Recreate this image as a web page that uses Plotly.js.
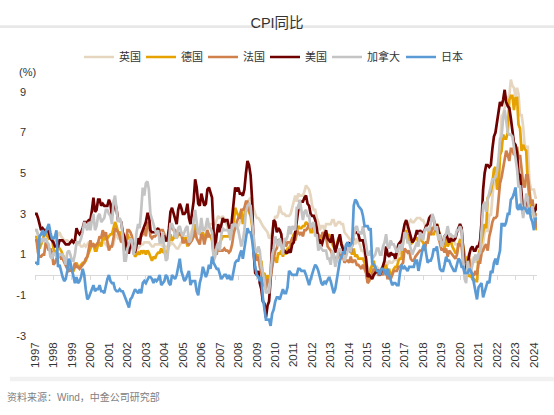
<!DOCTYPE html>
<html>
<head>
<meta charset="utf-8">
<script src="https://cdn.plot.ly/plotly-3.0.1.min.js"></script>
<style>html,body{margin:0;padding:0;background:#fff;}#chart{width:554px;height:415px;}</style>
</head>
<body>
<div id="chart"></div>
<script>
// Monthly YoY CPI, 1997-01 .. 2024-03
const startYear = 1997;
const seriesNames = ['英国', '德国', '法国', '美国', '加拿大', '日本'];
const uk = [
2.2,2.2,2.0,1.9,2.0,2.1,2.2,2.1,2.0,1.9,1.9,1.8,
1.7,1.7,1.8,2.0,2.1,1.9,1.8,1.7,1.7,1.7,1.6,1.6,
1.7,1.6,1.7,1.6,1.5,1.5,1.4,1.4,1.5,1.4,1.5,1.6,
1.6,1.5,1.4,1.4,1.5,1.6,1.5,1.4,1.6,1.6,1.5,1.4,
1.5,1.4,1.4,1.5,1.9,2.0,1.8,1.8,1.7,1.6,1.3,1.4,
1.6,1.5,1.5,1.4,1.2,1.2,1.3,1.3,1.4,1.5,1.5,1.6,
1.6,1.6,1.6,1.5,1.4,1.4,1.5,1.5,1.5,1.5,1.5,1.4,
1.4,1.4,1.4,1.4,1.5,1.6,1.5,1.4,1.3,1.3,1.5,1.6,
1.7,1.7,1.9,1.9,1.9,2.0,2.2,2.3,2.4,2.3,2.1,2.0,
2.0,2.0,1.8,2.0,2.3,2.4,2.5,2.5,2.5,2.5,2.7,2.9,
2.8,2.8,2.9,2.7,2.5,2.4,2.0,2.0,2.0,2.2,2.3,2.3,
2.4,2.6,2.7,3.0,3.2,3.4,3.6,3.7,3.8,3.5,3.2,3.0,
2.8,2.8,2.7,2.5,2.4,2.3,2.2,2.1,1.8,1.9,2.1,2.6,
2.9,2.8,3.0,3.4,3.1,3.0,3.0,2.9,2.9,2.9,3.0,3.3,
3.7,3.9,3.6,4.0,3.9,3.9,3.9,4.1,4.4,4.3,4.2,3.9,
3.4,3.2,3.2,2.8,2.6,2.2,2.4,2.4,2.2,2.5,2.5,2.5,
2.5,2.7,2.7,2.4,2.5,2.6,2.6,2.5,2.5,2.1,2.0,1.9,
1.8,1.7,1.6,1.8,1.5,1.8,1.6,1.5,1.2,1.2,1.0,0.7,
0.4,0.3,0.3,0.1,0.4,0.3,0.4,0.3,0.2,0.3,0.3,0.5,
0.6,0.5,0.7,0.6,0.6,0.7,0.8,0.7,1.0,1.1,1.4,1.8,
2.0,2.3,2.3,2.6,2.7,2.6,2.6,2.7,2.8,2.8,2.8,2.7,
2.7,2.5,2.3,2.2,2.3,2.3,2.3,2.4,2.2,2.2,2.1,2.0,
1.8,1.8,1.8,2.0,1.9,1.9,2.0,1.7,1.7,1.5,1.5,1.4,
1.8,1.7,1.5,0.9,0.7,0.8,1.1,0.5,0.7,0.9,0.6,0.8,
0.9,0.7,1.0,1.6,2.1,2.4,2.1,3.0,2.9,3.8,4.6,4.8,
4.9,5.5,6.2,7.8,7.9,8.2,8.8,8.6,8.8,9.6,9.3,9.2,
8.8,9.2,8.9,7.8,7.9,7.3,6.4,6.3,6.3,4.7,4.2,4.2,
4.2,3.8,3.8];
const germany = [
1.8,1.9,1.6,1.3,1.5,1.7,2.0,2.1,1.9,1.8,1.9,1.8,
1.3,1.1,1.1,1.4,1.3,1.2,1.0,0.8,0.7,0.7,0.5,0.4,
0.2,0.2,0.4,0.6,0.4,0.4,0.5,0.6,0.6,0.7,0.9,1.1,
1.3,1.5,1.5,1.2,1.2,1.5,1.6,1.4,1.9,1.7,1.9,1.8,
1.9,2.0,2.0,2.3,2.6,2.4,2.1,2.1,1.8,1.7,1.5,1.6,
2.0,1.8,1.8,1.5,1.2,0.9,1.0,1.1,1.0,1.2,1.1,1.2,
1.0,1.2,1.1,0.9,0.7,0.9,0.8,1.0,1.1,1.1,1.3,1.1,
1.2,0.9,1.1,1.6,2.0,1.7,1.8,2.0,1.8,2.0,2.0,2.1,
1.6,1.8,1.8,1.4,1.7,1.8,1.9,1.9,2.5,2.3,2.2,2.1,
2.0,2.1,1.8,2.0,1.9,2.0,1.9,1.7,1.0,1.1,1.5,1.4,
1.6,1.7,1.9,1.9,1.9,1.9,1.9,2.0,2.5,2.5,3.3,3.1,
2.9,2.9,3.2,2.5,3.0,3.3,3.3,3.1,2.9,2.4,1.4,1.1,
0.9,1.0,0.5,0.7,0.0,0.1,-0.5,0.0,-0.3,0.0,0.4,0.9,
0.8,0.6,1.1,1.0,1.2,0.9,1.2,1.0,1.3,1.3,1.5,1.7,
2.0,2.1,2.1,2.4,2.3,2.3,2.4,2.4,2.6,2.5,2.4,2.1,
2.1,2.3,2.1,2.1,1.9,1.7,1.7,2.1,2.0,2.0,1.9,2.0,
1.7,1.5,1.4,1.2,1.5,1.8,1.9,1.5,1.4,1.2,1.3,1.4,
1.3,1.2,1.0,1.3,0.9,1.0,0.8,0.8,0.8,0.8,0.6,0.2,
-0.3,0.1,0.3,0.5,0.7,0.3,0.2,0.2,0.0,0.3,0.4,0.3,
0.5,0.0,0.3,-0.1,0.1,0.3,0.4,0.4,0.7,0.8,0.8,1.7,
1.9,2.2,1.6,2.0,1.5,1.6,1.7,1.8,1.8,1.6,1.8,1.7,
1.6,1.4,1.6,1.6,2.2,2.1,2.0,2.0,2.3,2.5,2.3,1.7,
1.4,1.5,1.3,2.0,1.4,1.6,1.7,1.4,1.2,1.1,1.1,1.5,
1.7,1.7,1.4,0.9,0.6,0.9,-0.1,0.0,-0.2,-0.2,-0.3,-0.3,
1.0,1.3,1.7,2.0,2.5,2.3,3.8,3.9,4.1,4.5,5.2,5.3,
4.2,4.3,5.9,6.1,6.9,6.7,6.7,7.0,8.6,8.8,8.8,8.1,
8.7,8.7,7.4,7.2,6.1,6.4,6.2,6.1,4.5,3.8,3.2,3.7,
2.9,2.5,2.2];
const france = [
1.7,1.7,1.1,0.9,0.9,1.0,1.0,1.6,1.4,1.2,1.3,1.1,
0.5,0.6,0.8,1.0,1.0,0.8,0.8,0.6,0.5,0.3,0.2,0.3,
0.2,0.3,0.6,0.4,0.4,0.3,0.4,0.5,0.6,0.8,0.9,1.3,
1.7,1.4,1.5,1.4,1.5,1.6,1.9,1.8,2.2,1.9,2.1,1.6,
1.2,1.4,1.4,1.8,2.3,2.2,2.1,1.9,1.6,1.8,1.2,1.4,
2.2,2.2,2.1,1.9,1.5,1.4,1.6,1.7,1.8,1.9,2.0,2.3,
1.9,2.5,2.6,1.9,1.8,1.9,1.9,2.0,2.1,2.2,2.2,2.2,
2.0,1.7,1.7,2.0,2.4,2.3,2.2,2.2,2.0,2.1,2.0,2.1,
1.6,1.6,1.7,1.6,1.5,1.6,1.7,1.9,2.2,1.8,1.6,1.5,
2.0,1.9,1.5,1.9,2.2,1.9,1.9,1.9,1.2,1.1,1.0,1.5,
1.2,1.2,1.2,1.3,1.2,1.2,1.1,1.2,1.5,2.0,2.4,2.6,
2.8,2.8,3.2,3.2,3.3,3.6,3.6,3.2,3.0,2.7,1.6,1.0,
0.7,0.9,0.4,0.1,-0.3,-0.5,-0.7,-0.2,-0.4,-0.2,0.4,0.9,
1.2,1.3,1.7,1.7,1.6,1.5,1.7,1.4,1.6,1.6,1.6,1.8,
1.8,1.7,2.0,2.1,2.0,2.1,1.9,2.2,2.2,2.3,2.5,2.5,
2.3,2.3,2.3,2.1,2.0,1.9,1.9,2.1,1.9,1.9,1.4,1.3,
1.2,1.0,1.0,0.7,0.8,0.9,1.2,0.9,0.9,0.6,0.7,0.7,
0.6,0.9,0.6,0.7,0.7,0.5,0.5,0.4,0.3,0.5,0.3,0.1,
-0.4,-0.3,-0.1,0.1,0.3,0.2,0.2,0.0,0.0,0.1,0.0,0.2,
0.2,-0.2,-0.1,-0.2,0.0,0.2,0.2,0.2,0.4,0.4,0.5,0.6,
1.3,1.2,1.1,1.2,0.8,0.7,0.7,0.9,1.0,1.1,1.2,1.2,
1.3,1.2,1.6,1.6,2.0,2.0,2.3,2.3,2.2,2.2,1.9,1.6,
1.2,1.3,1.1,1.3,0.9,1.2,1.1,1.0,0.9,0.8,1.0,1.5,
1.5,1.4,0.7,0.3,0.4,0.2,0.8,0.2,0.0,0.0,0.2,0.0,
0.6,0.6,1.1,1.2,1.4,1.5,1.2,1.9,2.2,2.6,2.8,2.8,
2.9,3.6,4.5,4.8,5.2,5.8,6.1,5.9,5.6,6.2,6.2,5.9,
6.0,6.3,5.7,5.9,5.1,4.5,4.3,4.9,4.9,4.0,3.5,3.7,
3.1,3.0,2.3];
const usa = [
3.0,3.0,2.8,2.5,2.2,2.3,2.2,2.2,2.2,2.1,1.8,1.7,
1.6,1.4,1.4,1.4,1.7,1.7,1.7,1.6,1.5,1.5,1.5,1.6,
1.7,1.6,1.7,2.3,2.1,2.0,2.1,2.3,2.6,2.6,2.6,2.7,
2.7,3.2,3.8,3.1,3.2,3.7,3.7,3.4,3.5,3.4,3.4,3.4,
3.7,3.5,2.9,3.3,3.6,3.2,2.7,2.7,2.6,2.1,1.9,1.6,
1.1,1.1,1.5,1.6,1.2,1.1,1.5,1.8,1.5,2.0,2.2,2.4,
2.6,3.0,3.0,2.2,2.1,2.1,2.1,2.2,2.3,2.0,1.8,1.9,
1.9,1.7,1.7,2.3,3.1,3.3,3.0,2.7,2.5,3.2,3.5,3.3,
3.0,3.0,3.1,3.5,2.8,2.5,3.2,3.6,4.7,4.3,3.5,3.4,
4.0,3.6,3.4,3.5,4.2,4.3,4.1,3.8,2.1,1.3,2.0,2.5,
2.1,2.4,2.8,2.6,2.7,2.7,2.4,2.0,2.8,3.5,4.3,4.1,
4.3,4.0,4.0,3.9,4.2,5.0,5.6,5.4,4.9,3.7,1.1,0.1,
0.0,0.2,-0.4,-0.7,-1.3,-1.4,-2.1,-1.5,-1.3,-0.2,1.8,2.7,
2.6,2.1,2.3,2.2,2.0,1.1,1.2,1.1,1.1,1.2,1.1,1.5,
1.6,2.1,2.7,3.2,3.6,3.6,3.6,3.8,3.9,3.5,3.4,3.0,
2.9,2.9,2.7,2.3,1.7,1.7,1.4,1.7,2.0,2.2,1.8,1.7,
1.6,2.0,1.5,1.1,1.4,1.8,2.0,1.5,1.2,1.0,1.2,1.5,
1.6,1.1,1.5,2.0,2.1,2.1,2.0,1.7,1.7,1.7,1.3,0.8,
-0.1,0.0,-0.1,-0.2,0.0,0.1,0.2,0.2,0.0,0.2,0.5,0.7,
1.4,1.0,0.9,1.1,1.0,1.0,0.8,1.1,1.5,1.6,1.7,2.1,
2.5,2.7,2.4,2.2,1.9,1.6,1.7,1.9,2.2,2.0,2.2,2.1,
2.1,2.2,2.4,2.5,2.8,2.9,2.9,2.7,2.3,2.5,2.2,1.9,
1.6,1.5,1.9,2.0,1.8,1.6,1.8,1.7,1.7,1.8,2.1,2.3,
2.5,2.3,1.5,0.3,0.1,0.6,1.0,1.3,1.4,1.2,1.2,1.4,
1.4,1.7,2.6,4.2,5.0,5.4,5.4,5.3,5.4,6.2,6.8,7.0,
7.5,7.9,8.5,8.3,8.6,9.1,8.5,8.3,8.2,7.7,7.1,6.5,
6.4,6.0,5.0,4.9,4.0,3.0,3.2,3.7,3.7,3.2,3.1,3.4,
3.1,3.2,3.5];
const canada = [
2.2,2.2,2.0,1.7,1.6,1.8,1.7,1.8,1.6,1.5,0.9,0.8,
1.1,1.0,0.9,0.9,1.0,1.0,1.0,0.8,0.5,1.1,1.2,1.0,
0.7,0.7,1.0,1.6,1.6,1.6,1.8,2.1,2.6,2.4,2.2,2.6,
2.2,2.7,3.0,2.2,2.4,2.9,3.0,2.6,2.7,2.8,3.2,3.2,
3.0,2.9,2.5,3.6,3.9,3.3,2.6,2.8,2.6,1.9,0.7,0.7,
1.3,1.5,1.8,1.7,1.0,1.3,2.1,2.5,2.3,3.2,4.3,3.9,
4.5,4.6,4.2,3.0,2.8,2.5,2.2,2.0,2.2,1.6,1.6,2.1,
1.3,0.7,0.8,1.7,2.5,2.5,2.3,1.9,1.8,2.3,2.4,2.1,
1.9,2.1,2.3,2.4,1.6,1.7,2.0,2.6,3.2,2.6,2.0,2.1,
2.8,2.2,2.2,2.4,2.8,2.4,2.3,2.1,0.7,0.9,1.4,1.6,
1.2,2.0,2.3,2.2,2.2,2.2,2.2,1.7,2.5,2.4,2.5,2.4,
2.2,1.8,1.4,1.7,2.2,3.1,3.4,3.5,3.4,2.6,2.0,1.2,
1.1,1.4,1.2,0.4,0.1,-0.3,-0.9,-0.8,-0.9,0.1,1.0,1.3,
1.9,1.6,1.4,1.8,1.4,1.0,1.8,1.7,1.9,2.4,2.0,2.4,
2.3,2.2,3.3,3.3,3.7,3.1,2.7,3.1,3.2,2.9,2.9,2.3,
2.5,2.6,1.9,2.0,1.2,1.5,1.3,1.2,1.2,1.2,0.8,0.8,
0.5,1.2,1.0,0.4,0.7,1.2,1.3,1.1,1.1,0.7,0.9,1.2,
1.5,1.1,1.5,2.0,2.3,2.4,2.1,2.1,2.0,2.4,2.0,1.5,
1.0,1.0,1.2,0.8,0.9,1.0,1.3,1.3,1.0,1.0,1.4,1.6,
2.0,1.4,1.3,1.7,1.5,1.5,1.3,1.1,1.3,1.5,1.2,1.5,
2.1,2.0,1.6,1.6,1.3,1.0,1.2,1.4,1.6,1.4,2.1,1.9,
1.7,2.2,2.3,2.2,2.2,2.5,3.0,2.8,2.2,2.4,1.7,2.0,
1.4,1.5,1.9,2.0,2.4,2.0,2.0,1.9,1.9,1.9,2.2,2.2,
2.4,2.2,0.9,-0.2,-0.4,0.7,0.1,0.1,0.5,0.7,1.0,0.7,
1.0,1.1,2.2,3.4,3.6,3.1,3.7,4.1,4.4,4.7,4.7,4.8,
5.1,5.7,6.7,6.8,7.7,8.1,7.6,7.0,6.9,6.9,6.8,6.3,
5.9,5.2,4.3,4.4,3.4,2.8,3.3,4.0,3.8,3.1,3.1,3.4,
2.9,2.8,2.9];
const japan = [
0.6,0.6,0.5,1.9,2.0,2.2,1.9,2.1,2.4,2.5,2.1,1.8,
1.8,1.9,2.2,0.4,0.5,0.1,-0.1,-0.3,-0.2,0.2,0.8,0.6,
0.2,-0.1,-0.4,-0.1,-0.4,-0.3,-0.1,0.3,0.0,-0.7,-1.2,-1.1,
-0.9,-0.6,-0.5,-0.8,-0.7,-0.7,-0.5,-0.8,-0.8,-0.9,-0.5,-0.2,
0.0,-0.3,-0.4,-0.4,-0.7,-0.8,-0.8,-0.7,-0.8,-0.8,-1.0,-1.2,
-1.4,-1.6,-1.2,-1.1,-0.9,-0.7,-0.8,-0.9,-0.7,-0.9,-0.4,-0.3,
-0.4,-0.2,-0.1,-0.1,-0.2,-0.4,-0.2,-0.3,-0.2,0.0,-0.5,-0.4,
-0.3,0.0,-0.1,-0.4,-0.5,0.0,-0.1,-0.2,0.0,0.5,0.8,0.2,
-0.1,-0.3,-0.2,0.0,0.2,-0.5,-0.3,-0.3,-0.3,-0.8,-1.0,-0.4,
-0.1,0.4,0.2,-0.1,0.1,0.5,0.3,0.9,0.6,0.4,0.3,0.3,
0.0,-0.2,-0.1,0.0,0.0,-0.2,0.0,-0.2,-0.2,0.3,0.6,0.7,
0.7,1.0,1.2,0.8,1.3,2.0,2.3,2.1,2.1,1.7,1.0,0.4,
0.0,-0.1,-0.3,-0.1,-1.1,-1.8,-2.2,-2.2,-2.2,-2.5,-1.9,-1.7,
-1.3,-1.1,-1.1,-1.2,-0.9,-0.7,-0.9,-0.9,-0.6,0.2,0.1,0.0,
0.0,0.0,0.0,0.3,0.3,0.2,0.2,0.2,0.0,-0.2,-0.5,-0.2,
0.1,0.3,0.5,0.4,0.2,-0.2,-0.4,-0.5,-0.3,-0.4,-0.2,-0.1,
-0.3,-0.7,-0.9,-0.7,-0.3,0.2,0.7,0.9,1.1,1.1,1.5,1.6,
1.4,1.5,1.6,3.4,3.7,3.6,3.4,3.3,3.2,2.9,2.4,2.4,
2.4,2.2,2.3,0.6,0.5,0.4,0.2,0.2,0.0,0.3,0.3,0.2,
0.0,0.3,0.0,-0.3,-0.5,-0.4,-0.4,-0.5,-0.5,0.1,0.5,0.3,
0.4,0.3,0.2,0.4,0.4,0.4,0.4,0.7,0.7,0.2,0.6,1.0,
1.4,1.5,1.1,0.6,0.7,0.7,0.9,1.3,1.2,1.4,0.8,0.3,
0.2,0.2,0.5,0.9,0.7,0.7,0.5,0.3,0.2,0.2,0.5,0.8,
0.7,0.4,0.4,0.1,0.1,0.1,0.3,0.2,0.0,-0.4,-0.9,-1.2,
-0.6,-0.5,-0.4,-1.1,-0.8,-0.5,-0.3,-0.4,0.2,0.1,0.6,0.8,
0.5,0.9,1.2,2.5,2.5,2.4,2.6,3.0,3.0,3.7,3.8,4.0,
4.3,3.3,3.2,3.5,3.2,3.3,3.3,3.2,3.0,3.3,2.8,2.6,
2.2,2.8,2.7];
const yTickVals = [-3, -1, 1, 3, 5, 7, 9];

const seriesValues = [uk, germany, france, usa, canada, japan];
const seriesColors = ['#e6d6c0', '#e6a200', '#d0804a', '#6e0000', '#c4c4c4', '#5b9bd5'];

function monthDates(n) {
  const out = [];
  for (let i = 0; i < n; i++) {
    const y = startYear + Math.floor(i / 12);
    const m = (i % 12) + 1;
    out.push(y + '-' + (m < 10 ? '0' + m : m) + '-01');
  }
  return out;
}

const traces = seriesNames.map((name, i) => ({
  type: 'scatter', mode: 'lines', name: name,
  x: monthDates(seriesValues[i].length), y: seriesValues[i],
  line: {color: seriesColors[i], width: 2.7},
  legendwidth: name.length > 2 ? 29 : 17,
  hoverinfo: 'skip'
}));
// carrier for the zero-crossing axis (no points)
traces.push({type: 'scatter', mode: 'lines', x: [], y: [], xaxis: 'x2', showlegend: false, hoverinfo: 'skip'});

const FONT = 'Liberation Sans, Arial, Noto Sans CJK SC, sans-serif';
const xRange = ['1997-01-01', '2024-03-01'];
const layout = {
  width: 554, height: 415,
  margin: {l: 35, r: 17, t: 50, b: 79},
  paper_bgcolor: '#ffffff', plot_bgcolor: '#ffffff',
  font: {family: FONT, color: '#333333', size: 11},
  title: {text: 'CPI同比', x: 0.5, xref: 'container', xanchor: 'center',
          y: 1 - 23 / 415, yref: 'container', yanchor: 'middle',
          font: {family: FONT, size: 14.5, color: '#333333'}},
  showlegend: true,
  legend: {orientation: 'h', xref: 'container', x: 79 / 554, xanchor: 'left',
           yref: 'container', y: 1 - 57 / 415, yanchor: 'middle',
           font: {family: FONT, size: 11, color: '#333333'},
           bgcolor: 'rgba(0,0,0,0)', tracegroupgap: 0, itemclick: false},
  xaxis: {type: 'date', range: xRange, tickmode: 'linear', tick0: '1997-01-01', dtick: 'M12',
          tickformat: '%Y', tickangle: -90, showgrid: false, showline: false, zeroline: false,
          ticks: '', ticklabelstandoff: 3, tickfont: {family: FONT, size: 11.5, color: '#333333'}, fixedrange: true},
  xaxis2: {type: 'date', range: xRange, overlaying: 'x', anchor: 'free', position: 3 / 13,
           tickmode: 'linear', tick0: '1997-01-01', dtick: 'M12',
           showticklabels: false, showgrid: false, zeroline: false,
           showline: true, linecolor: '#d9d9d9', linewidth: 1,
           ticks: 'outside', ticklen: 4, tickcolor: '#d9d9d9', tickwidth: 1,
           layer: 'below traces', fixedrange: true},
  yaxis: {range: [-3, 10], tickmode: 'array', tickvals: yTickVals, ticktext: yTickVals.map(String),
          showgrid: false, zeroline: false, showline: false, ticks: '', ticklabelstandoff: 8,
          tickfont: {family: FONT, size: 11, color: '#333333'}, fixedrange: true},
  annotations: [
    {text: '(%)', xref: 'paper', yref: 'paper', x: (17 - 35) / 502, y: (336 - 51) / 286,
     xanchor: 'left', yanchor: 'middle', showarrow: false,
     font: {family: FONT, size: 11, color: '#333333'}},
    {text: '资料来源：Wind，中金公司研究部', xref: 'paper', yref: 'paper',
     x: (5 - 35) / 502, y: (336 - 402) / 286, xanchor: 'left', yanchor: 'middle', showarrow: false,
     font: {family: FONT, size: 10, color: '#808080'}}
  ],
  shapes: [
    {type: 'rect', xref: 'paper', yref: 'paper', x0: -35 / 502, x1: 519 / 502,
     y0: (336 - 0) / 286, y1: (336 - 3) / 286, fillcolor: '#e8e8e8', line: {width: 0}, layer: 'below'},
    {type: 'rect', xref: 'paper', yref: 'paper', x0: -25 / 502, x1: 519 / 502,
     y0: (336 - 380) / 286, y1: (336 - 385) / 286, fillcolor: '#f1f1f1', line: {width: 0}, layer: 'below'}
  ]
};

Plotly.newPlot('chart', traces, layout, {displayModeBar: false, staticPlot: true});
</script>
</body>
</html>
